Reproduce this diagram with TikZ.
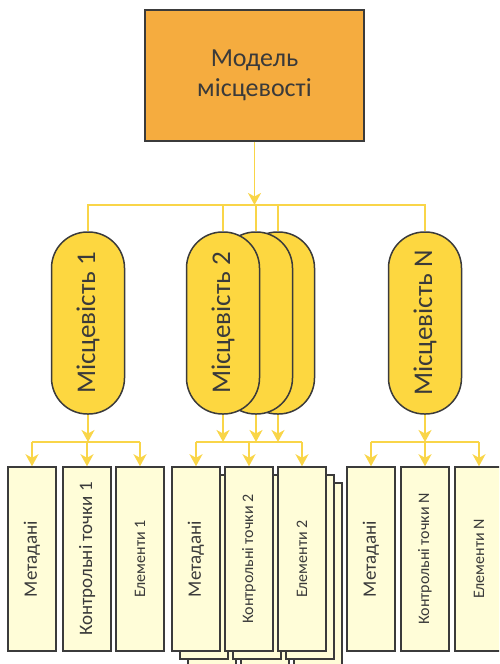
\documentclass[tikz,border=0pt]{standalone}
\usepackage{fontspec}
\setmainfont{Carlito}
\usetikzlibrary{arrows.meta}
\definecolor{modelorange}{HTML}{F5AC3F}
\definecolor{pillyellow}{HTML}{FDD740}
\definecolor{linkyellow}{HTML}{F9D548}
\definecolor{leafcream}{HTML}{FFFDD8}
\definecolor{edgegray}{HTML}{3B3B3B}
\definecolor{inkgray}{HTML}{3A3A3A}

\begin{document}
\begin{tikzpicture}[x=1pt,y=-1pt,
    link/.style={draw=linkyellow,line width=1.6pt},
    tip/.style={link,-{Stealth[length=12pt,width=13pt,inset=3.5pt]}},
    model/.style={draw=edgegray,line width=1.5pt,fill=modelorange,minimum width=219pt,minimum height=131pt,align=center,text=inkgray,font=\fontsize{26}{30}\selectfont},
    pill/.style={draw=edgegray,line width=1.5pt,fill=pillyellow,minimum width=73pt,minimum height=182pt,rounded corners=36pt,inner sep=0pt,text=inkgray,font=\fontsize{27}{30}\selectfont},
    leaf/.style={draw=edgegray,line width=1.5pt,fill=leafcream,minimum width=48pt,minimum height=184pt,inner sep=0pt,text=inkgray,font=\fontsize{19}{22}\selectfont},
    small/.style={font=\fontsize{16}{19}\selectfont}]
    \useasboundingbox (0,0) rectangle (499,664);
    \clip (0,0) rectangle (499,664);

    \node[model] (model) at (254.5,75.5) {Модель\\місцевості};

    % localities, the second one stacked
    \node[pill] (p1) at (88,323) {\rotatebox{90}{Місцевість 1}};
    \node[pill] (p2c) at (278,323) {};
    \node[pill] (p2b) at (256,323) {};
    \node[pill] (p2) at (223,323) {\rotatebox{90}{Місцевість 2}};
    \node[pill] (pN) at (425,323) {\rotatebox{90}{Місцевість N}};

    \coordinate (bus) at (0,205);
    \draw[tip] (model.south) -- (model.south |- bus);
    \draw[link] (p1.north) |- (pN.north |- bus) -- (pN.north);
    \foreach \p in {p2,p2b,p2c}
        \draw[link] (\p.north) -- (\p.north |- bus);

    % parts of each locality
    \node[leaf] (m1) at (32,559) {\rotatebox{90}{Метадані}};
    \node[leaf] (k1) at (87,559) {\rotatebox{90}{Контрольні точки 1}};
    \node[leaf,small] (e1) at (140,559) {\rotatebox{90}{Елементи 1}};

    \foreach \cx/\nm in {196/m2,249/k2,302/e2} {
        \node[leaf] (\nm c) at (\cx+16,559+16) {};
        \node[leaf] (\nm b) at (\cx+8,559+8) {};
    }
    \node[leaf] (m2) at (196,559) {\rotatebox{90}{Метадані}};
    \node[leaf,small] (k2) at (249,559) {\rotatebox{90}{Контрольні точки 2}};
    \node[leaf,small] (e2) at (302,559) {\rotatebox{90}{Елементи 2}};

    \node[leaf] (mN) at (371,559) {\rotatebox{90}{Метадані}};
    \node[leaf,small] (kN) at (425,559) {\rotatebox{90}{Контрольні точки N}};
    \node[leaf,small] (eN) at (479,559) {\rotatebox{90}{Елементи N}};

    \coordinate (low) at (0,442);
    \foreach \p in {p1,p2,p2b,p2c,pN}
        \draw[tip] (\p.south) -- (\p.south |- low);
    \draw[link] (m1.north |- low) -- (e1.north |- low);
    \draw[link] (m2.north |- low) -- (e2.north |- low);
    \draw[link] (mN.north |- low) -- (eN.north |- low);
    \foreach \b in {m1,k1,e1,m2,k2,e2,mN,kN,eN}
        \draw[tip] (\b.north |- low) -- (\b.north);
\end{tikzpicture}
\end{document}
